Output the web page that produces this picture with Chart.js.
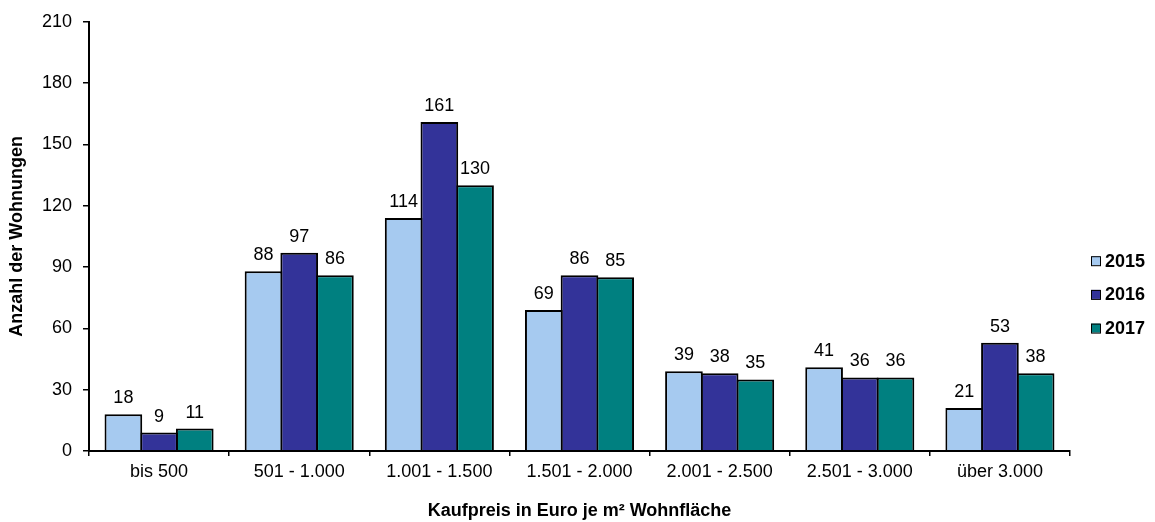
<!DOCTYPE html>
<html>
<head>
<meta charset="utf-8">
<script src="https://cdn.jsdelivr.net/npm/chart.js@4/dist/chart.umd.min.js"></script>
<style>
  html, body { margin: 0; padding: 0; background: #fff; }
  #wrap { width: 1155px; height: 522px; }
</style>
</head>
<body>
<div id="wrap"><canvas id="c" width="1155" height="522"></canvas></div>
<script>
// Kaufpreisklassen (Euro je m² Wohnfläche)
const categories = ['bis 500', '501 - 1.000', '1.001 - 1.500', '1.501 - 2.000', '2.001 - 2.500', '2.501 - 3.000', 'über 3.000'];
const seriesNames = ['2015', '2016', '2017'];
const values2015 = [18, 88, 114, 69, 39, 41, 21];
const values2016 = [9, 97, 161, 86, 38, 36, 53];
const values2017 = [11, 86, 130, 85, 35, 36, 38];
const yTicks = [0, 30, 60, 90, 120, 150, 180, 210];

const colors = ['#A6CAF0', '#333399', '#008080'];
const FONT = '"Liberation Sans", Arial, sans-serif';

// Value labels above each bar
const valueLabels = {
  id: 'valueLabels',
  afterDatasetsDraw(chart) {
    const ctx = chart.ctx;
    ctx.save();
    ctx.font = '18px ' + FONT;
    ctx.fillStyle = '#000';
    ctx.textAlign = 'center';
    ctx.textBaseline = 'alphabetic';
    chart.data.datasets.forEach((ds, di) => {
      const meta = chart.getDatasetMeta(di);
      meta.data.forEach((bar, i) => {
        ctx.fillText(String(ds.data[i]), bar.x, bar.y - 11);
      });
    });
    ctx.restore();
  }
};

// Vertical legend on the right side
const sideLegend = {
  id: 'sideLegend',
  afterDraw(chart) {
    const ctx = chart.ctx;
    const x0 = chart.chartArea.right + 21;
    const yc = (chart.chartArea.top + chart.chartArea.bottom) / 2 + 58;
    const step = 33.7;
    ctx.save();
    ctx.font = 'bold 18px ' + FONT;
    ctx.textAlign = 'left';
    ctx.textBaseline = 'middle';
    chart.data.datasets.forEach((ds, i) => {
      const y = yc + (i - 1) * step;
      ctx.fillStyle = ds.backgroundColor;
      ctx.fillRect(x0, y - 4.5, 9, 9);
      ctx.strokeStyle = '#000';
      ctx.lineWidth = 1;
      ctx.strokeRect(x0 + 0.5, y - 4.5 + 0.5, 9, 9);
      ctx.fillStyle = '#000';
      ctx.fillText(ds.label, x0 + 14, y + 1);
    });
    ctx.restore();
  }
};

const seriesValues = [values2015, values2016, values2017];

new Chart(document.getElementById('c'), {
  type: 'bar',
  data: {
    labels: categories,
    datasets: seriesNames.map((name, i) => ({
      label: name,
      data: seriesValues[i],
      backgroundColor: colors[i],
      borderColor: '#000',
      borderWidth: 2,
      borderSkipped: 'bottom',
      // slight overlap so neighbouring bars share one outline
      barPercentage: 1.056,
      categoryPercentage: 0.764
    }))
  },
  options: {
    responsive: false,
    animation: false,
    layout: { padding: { top: 21, right: 85, bottom: 0, left: 0 } },
    plugins: {
      legend: { display: false },
      tooltip: { enabled: false }
    },
    scales: {
      x: {
        grid: {
          display: true,
          drawOnChartArea: false,
          drawTicks: true,
          tickLength: 5,
          color: '#000',
          lineWidth: 1.5,
          offset: true
        },
        border: { display: true, color: '#000', width: 2, z: 1 },
        ticks: {
          color: '#000',
          font: { family: FONT, size: 18 },
          padding: 5,
          maxRotation: 0,
          autoSkip: false
        },
        title: {
          display: true,
          text: 'Kaufpreis in Euro je m² Wohnfläche',
          color: '#000',
          font: { family: FONT, size: 18, weight: 'bold' },
          padding: { top: 0, bottom: 0 }
        },
        afterFit(scale) { scale.height = 71; }
      },
      y: {
        min: 0,
        max: 210,
        afterBuildTicks(scale) { scale.ticks = yTicks.map(v => ({ value: v })); },
        grid: {
          display: true,
          drawOnChartArea: false,
          drawTicks: true,
          tickLength: 6,
          color: '#000',
          lineWidth: 1.5
        },
        border: { display: true, color: '#000', width: 2 },
        ticks: {
          color: '#000',
          font: { family: FONT, size: 18 },
          padding: 11
        },
        title: {
          display: true,
          text: 'Anzahl der Wohnungen',
          color: '#000',
          font: { family: FONT, size: 18, weight: 'bold' },
          padding: { top: 6, bottom: 0 }
        },
        afterFit(scale) { scale.width = 89; }
      }
    }
  },
  plugins: [valueLabels, sideLegend]
});
</script>
</body>
</html>
